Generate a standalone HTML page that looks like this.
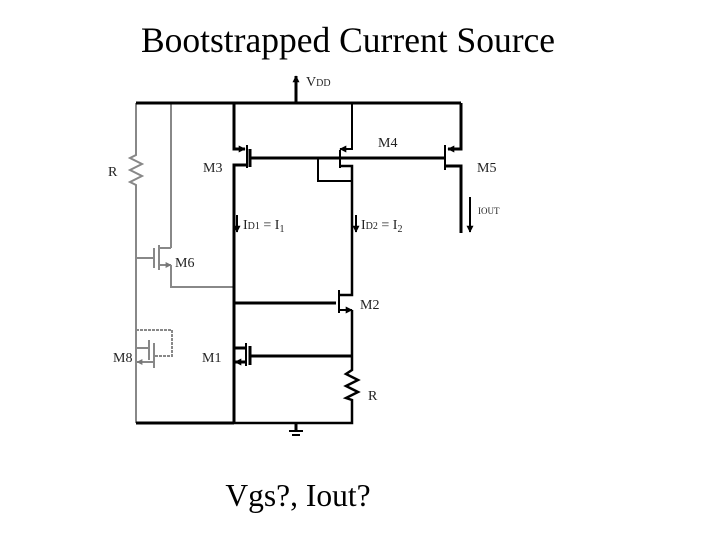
<!DOCTYPE html>
<html><head><meta charset="utf-8"><style>
html,body{margin:0;padding:0;background:#fff;width:720px;height:540px;overflow:hidden}
</style></head><body>
<svg width="720" height="540" viewBox="0 0 720 540" xmlns="http://www.w3.org/2000/svg" font-family="Liberation Serif, serif">
<text x="348" y="52" font-size="35.5" text-anchor="middle">Bootstrapped Current Source</text>
<text x="298" y="506" font-size="31.5" text-anchor="middle">Vgs?, Iout?</text>
<defs>
<marker id="a" viewBox="0 0 10 10" refX="9" refY="5" markerUnits="userSpaceOnUse" markerWidth="7" markerHeight="7" orient="auto"><path d="M0,0L10,5L0,10z" fill="#000"/></marker>
<marker id="g" viewBox="0 0 10 10" refX="9" refY="5" markerUnits="userSpaceOnUse" markerWidth="6" markerHeight="6" orient="auto"><path d="M0,0L10,5L0,10z" fill="#777"/></marker>
</defs>
<g stroke="#888" stroke-width="2" fill="none">
<polyline points="136,103 136,155 130,158 142,164 130,170 142,176 130,182 136,185 136,423"/>
<line x1="171" y1="103" x2="171" y2="248"/>
<polyline points="171,248 159,248"/>
<line x1="136" y1="258" x2="154" y2="258"/>
<line x1="154" y1="248" x2="154" y2="268"/>
<line x1="159" y1="245" x2="159" y2="270"/>
<line x1="159" y1="265" x2="171" y2="265" marker-end="url(#g)"/>
<polyline points="171,265 171,287 234,287"/>
<polyline points="136,330 172,330 172,356 154,356" stroke-dasharray="3,1"/>
<line x1="136" y1="348" x2="149" y2="348"/>
<line x1="149" y1="340" x2="149" y2="360"/>
<line x1="154" y1="343" x2="154" y2="368"/>
<line x1="154" y1="362" x2="137" y2="362" marker-end="url(#g)"/>
</g>
<g stroke="#000" stroke-width="3" fill="none">
<line x1="136" y1="103" x2="461" y2="103"/>
<line x1="296" y1="103" x2="296" y2="76" marker-end="url(#a)"/>
<polyline points="234,103 234,149 245,149" marker-end="url(#a)"/>
<line x1="247" y1="145" x2="247" y2="168" stroke-width="2"/>
<line x1="250" y1="149" x2="250" y2="167"/>
<line x1="250" y1="158" x2="444" y2="158"/>
<polyline points="247,165 234,165 234,423"/>
<polyline points="352,103 352,149 340,149" marker-end="url(#a)" stroke-width="2"/>
<line x1="340" y1="150" x2="340" y2="168" stroke-width="2"/>
<polyline points="340,166 352,166 352,295 339,295" stroke-width="2.5"/>
<polyline points="318,158 318,181 352,181" stroke-width="2"/>
<polyline points="461,103 461,149 448,149" marker-end="url(#a)"/>
<line x1="445" y1="145" x2="445" y2="170" stroke-width="2"/>
<polyline points="445,166 461,166 461,233"/>
<line x1="470" y1="197" x2="470" y2="232" stroke-width="2" marker-end="url(#a)"/>
<line x1="237" y1="215" x2="237" y2="232" stroke-width="2" marker-end="url(#a)"/>
<line x1="356" y1="215" x2="356" y2="232" stroke-width="2" marker-end="url(#a)"/>
<line x1="339" y1="290" x2="339" y2="313" stroke-width="2"/>
<line x1="234" y1="303" x2="336" y2="303"/>
<line x1="339" y1="310" x2="352" y2="310" marker-end="url(#a)" stroke-width="2"/>
<polyline points="352,310 352,370 346,374 358,380 346,386 358,392 346,398 352,400 352,423 234,423" stroke-width="2.5"/>
<line x1="234" y1="348" x2="246" y2="348"/>
<line x1="246" y1="343" x2="246" y2="366" stroke-width="2"/>
<line x1="250" y1="346" x2="250" y2="365"/>
<line x1="250" y1="356" x2="352" y2="356"/>
<line x1="246" y1="362" x2="235" y2="362" marker-end="url(#a)"/>
<line x1="136" y1="423" x2="234" y2="423"/>
<line x1="296" y1="423" x2="296" y2="431"/>
<line x1="289" y1="431" x2="303" y2="431" stroke-width="2"/>
<line x1="292" y1="435" x2="300" y2="435" stroke-width="2"/>
</g>
<g font-size="14" fill="#222">
<text x="306" y="86">V<tspan font-size="10">DD</tspan></text>
<text x="203" y="172">M3</text>
<text x="378" y="147">M4</text>
<text x="477" y="172">M5</text>
<text x="175" y="267">M6</text>
<text x="360" y="309">M2</text>
<text x="202" y="362">M1</text>
<text x="113" y="362">M8</text>
<text x="368" y="400">R</text>
<text x="108" y="176">R</text>
<text x="243" y="229">I<tspan font-size="10">D1</tspan> = I<tspan font-size="10" dy="3">1</tspan></text>
<text x="361" y="229">I<tspan font-size="10">D2</tspan> = I<tspan font-size="10" dy="3">2</tspan></text>
<text x="478" y="214" font-size="9">I<tspan>OUT</tspan></text>
</g>
</svg>
</body></html>
